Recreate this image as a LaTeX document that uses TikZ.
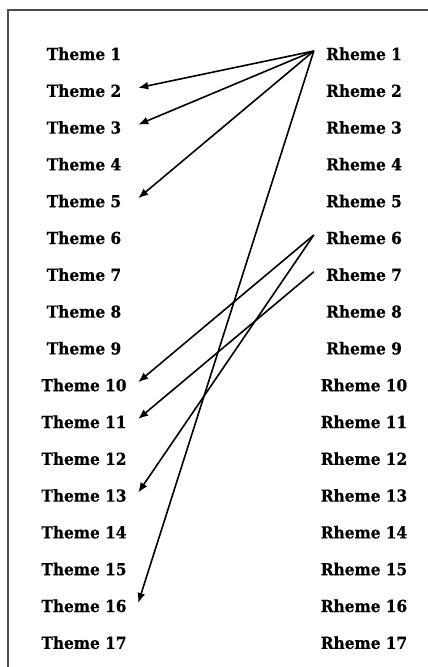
\documentclass[tikz,border=0pt]{standalone}
\usepackage{fontspec}
\setmainfont{DejaVu Serif}[FakeStretch=0.93,BoldFeatures={FakeBold=0.6}]
\usetikzlibrary{arrows.meta}
\begin{document}
\begin{tikzpicture}[x=1pt,y=-1pt,
  lbl/.style={font=\bfseries\fontsize{16.5}{19}\selectfont, anchor=base, inner sep=0pt, text height=18pt, text depth=0pt, align=center},
  theme/.style={lbl, minimum width=108pt},
  rheme/.style={lbl, minimum width=100pt},
  arr/.style={-{Latex[length=10pt,width=8pt]}, line width=1.6pt}]
\useasboundingbox (0,0) rectangle (428,667);
\fill[white] (0,0) rectangle (428,667);
\draw[line width=2.2pt, black!70] (8,680) -- (8,10) -- (440,10);
\foreach \i in {1,...,17}{
  \node[theme] (T\i) at (84,{60+36.8*(\i-1)}) {Theme \i};
  \node[rheme] (R\i) at (364,{60+36.8*(\i-1)}) {Rheme \i};
}
\draw[arr] (R1.west) -- (T2.east);
\draw[arr] (R1.west) -- (T3.east);
\draw[arr] (R1.west) -- (T5.east);
\draw[arr] (R1.west) -- (T16.east);
\draw[arr] (R6.west) -- (T10.east);
\draw[arr] (R6.west) -- (T13.east);
\draw[arr] (R7.west) -- (T11.east);
\end{tikzpicture}
\end{document}
